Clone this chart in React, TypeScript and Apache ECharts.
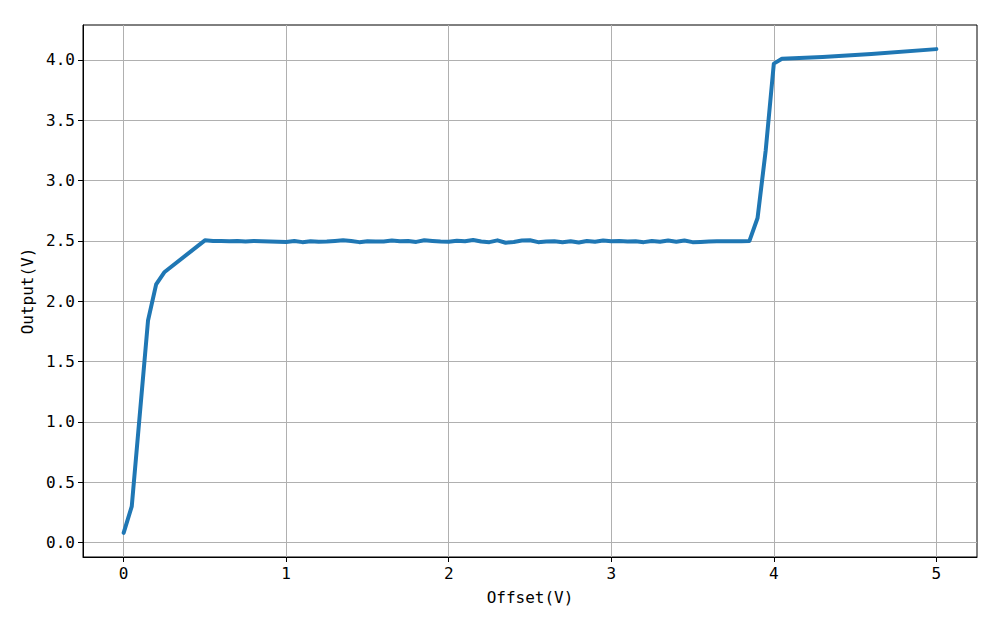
import React, { useEffect, useRef } from "react";
import * as echarts from "echarts";

const xValues: number[] = [
  0, 0.05, 0.1, 0.15, 0.2, 0.25, 0.5, 0.55, 0.6, 0.65, 0.7, 0.75, 0.8, 0.85, 0.9, 0.95,
  1.0, 1.05, 1.1, 1.15, 1.2, 1.25, 1.3, 1.35, 1.4, 1.45, 1.5, 1.55, 1.6, 1.65, 1.7, 1.75,
  1.8, 1.85, 1.9, 1.95, 2.0, 2.05, 2.1, 2.15, 2.2, 2.25, 2.3, 2.35, 2.4, 2.45, 2.5, 2.55,
  2.6, 2.65, 2.7, 2.75, 2.8, 2.85, 2.9, 2.95, 3.0, 3.05, 3.1, 3.15, 3.2, 3.25, 3.3, 3.35,
  3.4, 3.45, 3.5, 3.55, 3.6, 3.65, 3.7, 3.75, 3.8, 3.85, 3.9, 3.95, 4.0, 4.05, 4.3, 4.6, 5.0,
];
const yValues: number[] = [
  0.08, 0.3, 1.07, 1.84, 2.14, 2.24, 2.505, 2.5, 2.5, 2.498, 2.5, 2.495, 2.5, 2.498, 2.495, 2.493,
  2.492, 2.5, 2.49, 2.498, 2.494, 2.495, 2.5, 2.505, 2.5, 2.49, 2.498, 2.495, 2.496, 2.503, 2.497, 2.5,
  2.492, 2.505, 2.5, 2.496, 2.494, 2.502, 2.497, 2.508, 2.495, 2.49, 2.505, 2.485, 2.492, 2.503, 2.506, 2.49,
  2.495, 2.497, 2.49, 2.497, 2.487, 2.5, 2.493, 2.503, 2.498, 2.5, 2.495, 2.497, 2.49, 2.5, 2.493, 2.503,
  2.494, 2.503, 2.49, 2.492, 2.495, 2.497, 2.498, 2.497, 2.497, 2.5, 2.69, 3.25, 3.97, 4.01, 4.025, 4.05, 4.09,
];
const xTicks: number[] = [0, 1, 2, 3, 4, 5];
const yTicks: number[] = [0, 0.5, 1, 1.5, 2, 2.5, 3, 3.5, 4];

const FONT = "DejaVu Sans Mono";

export default function App() {
  const ref = useRef<HTMLDivElement>(null);
  useEffect(() => {
    if (!ref.current) return;
    const chart = echarts.init(ref.current, null, { renderer: "svg" });
    const data = xValues.map((x, i) => [x, yValues[i]]);
    chart.setOption({
      animation: false,
      backgroundColor: "#ffffff",
      grid: {
        left: 83,
        right: 23,
        top: 25,
        bottom: 68,
        show: true,
        borderColor: "#000000",
        borderWidth: 1,
        containLabel: false,
      },
      xAxis: {
        type: "value",
        min: -0.25,
        max: 5.25,
        name: "Offset(V)",
        nameLocation: "middle",
        nameGap: 32,
        nameTextStyle: { fontFamily: FONT, fontSize: 16, color: "#000" },
        axisLine: { show: true, onZero: false, lineStyle: { color: "#000", width: 1 } },
        axisTick: { show: true, length: 5, lineStyle: { color: "#000" }, customValues: xTicks },
        axisLabel: {
          customValues: xTicks,
          fontFamily: FONT,
          fontSize: 16,
          color: "#000",
          margin: 8,
          formatter: (v: number) => String(v),
        },
        splitLine: { show: true, lineStyle: { color: "#b0b0b0", width: 1 } },
      },
      yAxis: {
        type: "value",
        min: -0.12,
        max: 4.29,
        name: "Output(V)",
        nameLocation: "middle",
        nameGap: 46,
        nameRotate: 90,
        nameTextStyle: { fontFamily: FONT, fontSize: 16, color: "#000" },
        axisLine: { show: true, onZero: false, lineStyle: { color: "#000", width: 1 } },
        axisTick: { show: true, length: 5, lineStyle: { color: "#000" }, customValues: yTicks },
        axisLabel: {
          customValues: yTicks,
          fontFamily: FONT,
          fontSize: 16,
          color: "#000",
          margin: 8,
          formatter: (v: number) => v.toFixed(1),
        },
        splitLine: { show: true, lineStyle: { color: "#b0b0b0", width: 1 } },
      },
      series: [
        {
          type: "line",
          data,
          showSymbol: false,
          symbol: "none",
          lineStyle: { color: "#1f77b4", width: 4, cap: "round", join: "round" },
          clip: false,
        },
      ],
    });
    return () => chart.dispose();
  }, []);
  return (
    <div
      ref={ref}
      style={{ position: "fixed", left: 0, top: 0, width: 1000, height: 625 }}
    />
  );
}
